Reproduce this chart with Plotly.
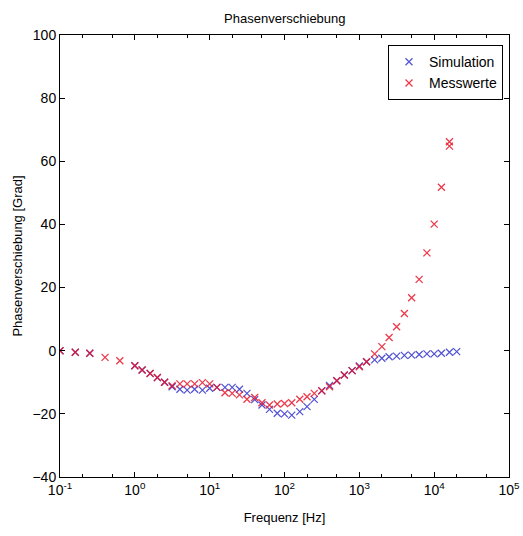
import plotly.graph_objects as go

# Messwerte (measurements)
freq_mess = [0.1, 0.16, 0.25, 0.4, 0.63, 1, 1.25, 1.6, 2, 2.5, 3.15, 4, 5, 6.3, 8,
             10, 12.5, 16, 20, 25, 31.5, 40, 50, 63, 80, 100, 125, 160, 200, 250,
             315, 400, 500, 630, 800, 1000, 1250, 1600, 2000, 2500, 3150, 4000,
             5000, 6300, 8000, 10000, 12500, 16000, 16000]
phase_mess = [0, -0.5, -0.8, -2.1, -3.2, -4.75, -6.1, -7.2, -8.5, -10, -11.1, -10.5,
              -10.5, -10.5, -10.1, -10.5, -11.6, -13.3, -13.5, -14, -15.4, -14.8,
              -16.5, -17.2, -16.9, -16.7, -16.5, -15.4, -14.6, -13.5, -12.7, -11.4,
              -9.5, -7.7, -6.3, -5.1, -3.5, -1.0, 1.3, 4.2, 7.6, 11.8, 16.8, 22.6,
              31.0, 40.1, 51.8, 66.2, 64.8]

# Simulation
freq_sim = [0.1, 0.16, 0.25, 1, 1.25, 1.6, 2, 2.5, 3.15, 4, 5, 6.3, 8, 10, 12.5, 16,
            20, 25, 31.5, 40, 50, 63, 80, 100, 125, 160, 200, 250, 315, 400, 500,
            630, 800, 1000, 1250, 1600, 2000, 2500, 3150, 4000, 5000, 6300, 8000,
            10000, 12500, 16000, 20000]
phase_sim = [0, -0.5, -0.8, -4.75, -6.1, -7.2, -8.5, -10, -11.4, -12.2, -12.5, -12.2,
             -12.5, -11.9, -11.6, -11.6, -11.6, -12.2, -13.5, -15.5, -17.2, -18.6,
             -19.8, -20, -20.4, -19.3, -17.7, -15.4, -12.7, -11, -9.5, -7.7, -6.3,
             -4.8, -3.5, -2.9, -2.4, -1.9, -1.7, -1.5, -1.4, -1.2, -1.0, -1.0, -0.8,
             -0.5, -0.3]

x_tickvals = [0.1, 1, 10, 100, 1000, 10000, 100000]
x_ticktext = ["10<sup>-1</sup>", "10<sup>0</sup>", "10<sup>1</sup>", "10<sup>2</sup>",
              "10<sup>3</sup>", "10<sup>4</sup>", "10<sup>5</sup>"]
y_tickvals = [-40, -20, 0, 20, 40, 60, 80, 100]

FONT = "Liberation Sans Narrow, Arial Narrow, Liberation Sans, Arial, sans-serif"

fig = go.Figure()
fig.add_trace(go.Scatter(
    x=freq_sim, y=phase_sim, mode="markers", name="Simulation",
    marker=dict(symbol="x-thin", size=7, color="rgba(0,0,0,0)",
                line=dict(width=1.2, color="rgba(50,50,205,0.85)")),
))
fig.add_trace(go.Scatter(
    x=freq_mess, y=phase_mess, mode="markers", name="Messwerte",
    marker=dict(symbol="x-thin", size=7, color="rgba(0,0,0,0)",
                line=dict(width=1.3, color="rgba(230,15,35,0.82)")),
))

fig.update_layout(
    width=523, height=536,
    margin=dict(l=60, r=14, t=35, b=59),
    paper_bgcolor="white", plot_bgcolor="white",
    font=dict(family=FONT, size=13, color="black"),
    title=dict(text="Phasenverschiebung", x=0.5446, xanchor="center",
               y=0.966, yanchor="middle", font=dict(size=13)),
    showlegend=True,
    legend=dict(x=0.9866, y=0.977, xanchor="right", yanchor="top",
                bgcolor="white", bordercolor="black", borderwidth=1,
                font=dict(size=14), itemwidth=30, tracegroupgap=0),
    xaxis=dict(
        type="log", range=[-1, 5], tickvals=x_tickvals, ticktext=x_ticktext,
        ticks="inside", ticklen=5, tickcolor="black", showgrid=False,
        zeroline=False, showline=True, linecolor="black", linewidth=1,
        mirror="allticks", tickfont=dict(size=14), automargin=False,
        minor=dict(ticks="inside", ticklen=3, tickcolor="black", showgrid=False),
        title=dict(text="Frequenz [Hz]", font=dict(size=13), standoff=16),
    ),
    yaxis=dict(
        range=[-40, 100], tickvals=y_tickvals, ticks="inside", ticklen=5,
        tickcolor="black", showgrid=False, zeroline=False, showline=True,
        linecolor="black", linewidth=1, mirror="allticks", tickfont=dict(size=14),
        automargin=False,
        title=dict(text="Phasenverschiebung [Grad]", font=dict(size=13), standoff=6),
    ),
)

fig.write_html("out.html")
